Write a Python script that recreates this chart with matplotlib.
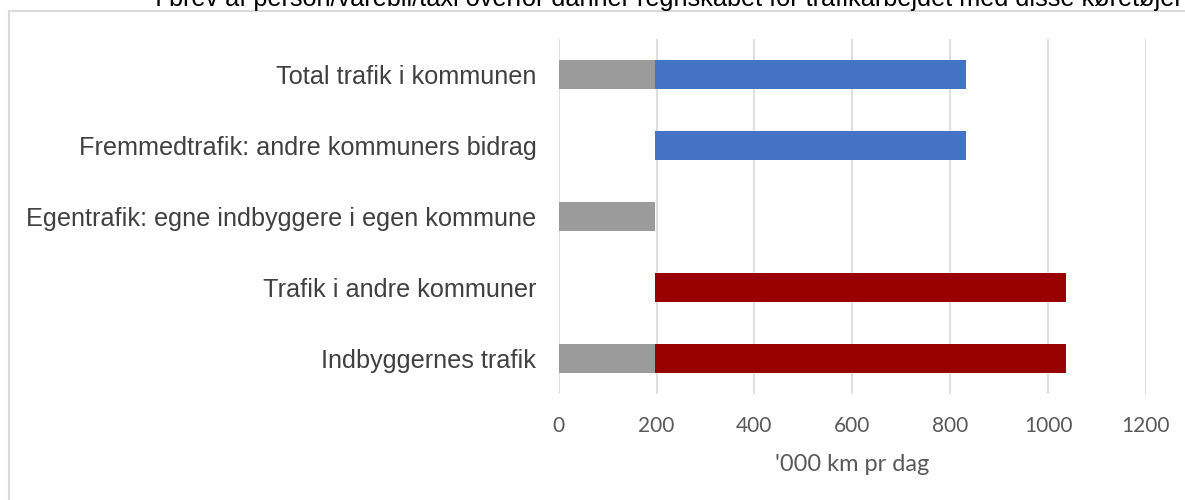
import matplotlib.pyplot as plt
from matplotlib.patches import Rectangle

# categories from bottom to top
categories = ["Indbyggernes trafik",
              "Trafik i andre kommuner",
              "Egentrafik: egne indbyggere i egen kommune",
              "Fremmedtrafik: andre kommuners bidrag",
              "Total trafik i kommunen"]

# gray part (egentrafik), blank offset, blue part, red part ('000 km pr dag)
egen = [197, 0, 197, 0, 197]
offset = [0, 197, 0, 197, 0]
fremmed = [0, 0, 0, 636, 636]
andre = [839, 839, 0, 0, 0]

xticks = [0, 200, 400, 600, 800, 1000, 1200]

fig = plt.figure(figsize=(11.85, 5), dpi=100)
ax = fig.add_axes([0.4714, 0.212, 0.4957, 0.71])

y = range(len(categories))
h = 0.4
ax.barh(y, egen, height=h, color="#9b9b9b", linewidth=0, zorder=3)
base = [a + b for a, b in zip(egen, offset)]
ax.barh(y, fremmed, left=base, height=h, color="#4472c4", linewidth=0, zorder=3)
ax.barh(y, andre, left=base, height=h, color="#990000", linewidth=0, zorder=3)

ax.set_xlim(0, 1200)
ax.set_ylim(-0.5, 4.5)
ax.set_xticks(xticks)
ax.set_xticklabels([str(t) for t in xticks], family="Lato", fontsize=15, color="#595959")
ax.set_yticks(list(y))
ax.set_yticklabels(categories, family="Liberation Sans", fontsize=18.2, color="#404040")
ax.tick_params(axis="both", length=0)
ax.tick_params(axis="y", pad=16)
ax.tick_params(axis="x", pad=16)
ax.grid(axis="x", color="#d9d9d9", linewidth=1.2, zorder=0)
for s in ax.spines.values():
    s.set_visible(False)
ax.set_xlabel("'000 km pr dag", family="Lato", fontsize=17, color="#595959", labelpad=13)

# outer chart frame (cut off by the image edge)
fig.patches.append(Rectangle((9 / 1185, -0.1), 1.2, 1 - 11 / 500 + 0.1,
                             transform=fig.transFigure, fill=False,
                             edgecolor="#d9d9d9", linewidth=1.5))

# clipped line of text from the surrounding page
fig.text(155 / 1185, 1 - 6 / 500,
         "I brev af person/varebil/taxi overfor danner regnskabet for trafikarbejdet med disse køretøjer",
         family="Liberation Sans", fontsize=18.2, color="#000000", ha="left", va="baseline")

fig.savefig("out.png", dpi=100)
